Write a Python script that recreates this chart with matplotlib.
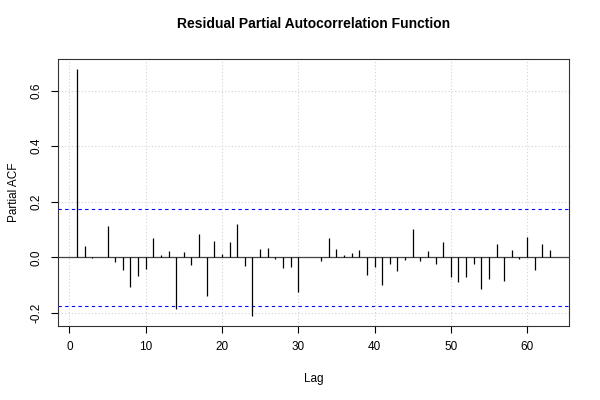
import matplotlib
matplotlib.use("Agg")
import matplotlib.pyplot as plt
import numpy as np

plt.rcParams['font.family'] = ['Liberation Sans', 'DejaVu Sans']

lags = list(range(1, 64))
pacf = [0.678, 0.040, -0.003, 0.003, 0.113, -0.016, -0.044, -0.106, -0.065, -0.042,
        0.070, 0.010, 0.022, -0.185, 0.018, -0.028, 0.086, -0.138, 0.058, 0.012,
        0.054, 0.121, -0.032, -0.211, 0.029, 0.035, -0.004, -0.037, -0.035, -0.124,
        0.002, 0.001, -0.012, 0.071, 0.032, 0.010, 0.017, 0.028, -0.062, -0.036,
        -0.100, -0.024, -0.049, -0.010, 0.101, -0.013, 0.022, -0.025, 0.054, -0.071,
        -0.089, -0.071, -0.024, -0.115, -0.078, 0.050, -0.086, 0.028, -0.006, 0.073,
        -0.044, 0.050, 0.025]
conf = 0.1732
xticks = [0, 10, 20, 30, 40, 50, 60]
yticks = [-0.2, 0.0, 0.2, 0.4, 0.6]
ytick_labels = ["-0.2", "0.0", "0.2", "0.4", "0.6"]

fig = plt.figure(figsize=(6, 4), dpi=100)
ax = fig.add_axes([0.097, 0.185, 0.851, 0.6675])

for t in xticks:
    ax.axvline(t, color='#d3d3d3', lw=0.8, ls=(0, (1, 2)), zorder=0)
for t in yticks:
    ax.axhline(t, color='#d3d3d3', lw=0.8, ls=(0, (1, 2)), zorder=0)

ax.vlines(lags, 0, pacf, color='black', lw=0.9, zorder=3)
ax.axhline(0, color='#444444', lw=0.9, zorder=2)
ax.axhline(conf, color='blue', lw=0.8, ls=(0, (3, 3)), zorder=2)
ax.axhline(-conf, color='blue', lw=0.8, ls=(0, (3, 3)), zorder=2)

ax.set_xlim(-1.48, 65.48)
ax.set_ylim(-0.2466, 0.7136)
ax.set_xticks(xticks)
ax.set_yticks(yticks)
ax.set_yticklabels(ytick_labels, rotation=90, va='center')
ax.tick_params(axis='both', labelsize=8.5, length=5, width=0.8, direction='out', pad=6)
for s in ax.spines.values():
    s.set_linewidth(0.8)
    s.set_color('#333333')

ax.set_xlabel('Lag', fontsize=8.5, labelpad=14)
ax.set_ylabel('Partial ACF', fontsize=8.5, labelpad=8)
ax.set_title('Residual Partial Autocorrelation Function', fontsize=10, fontweight='bold', pad=22)

fig.savefig('out.png', dpi=100)
